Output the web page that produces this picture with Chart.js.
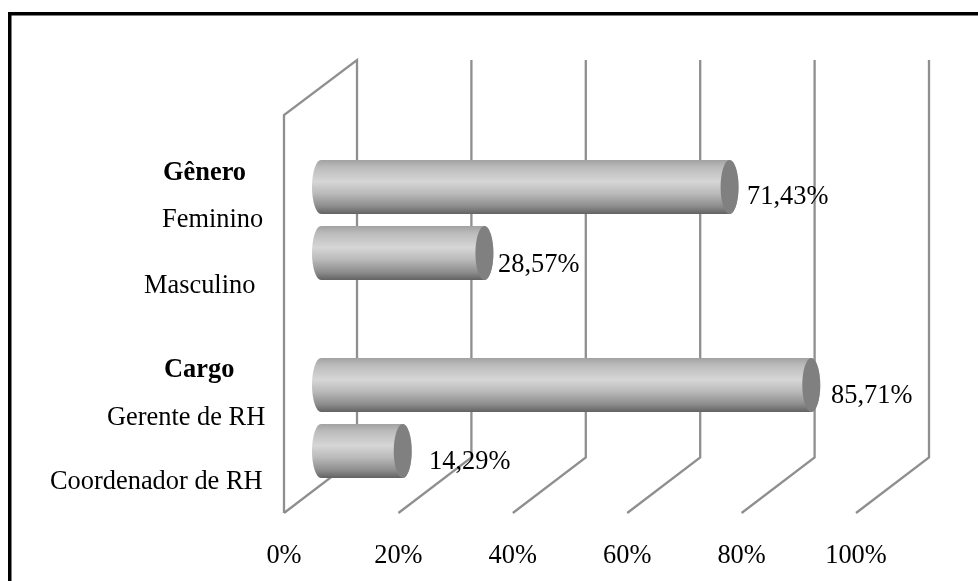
<!DOCTYPE html>
<html>
<head>
<meta charset="utf-8">
<style>html,body{margin:0;padding:0;background:#fff}canvas{display:block}</style>
<script src="https://cdn.jsdelivr.net/npm/chart.js@4"></script>
</head>
<body>
<canvas id="c" width="978" height="581"></canvas>
<script>
const categories = ['Feminino', 'Masculino', '', 'Gerente de RH', 'Coordenador de RH'];
const values = [71.43, 28.57, null, 85.71, 14.29];
const valueLabels = ['71,43%', '28,57%', '', '85,71%', '14,29%'];
const groupHeaders = ['Gênero', 'Cargo'];
const xTicksMax = 100;

const FONT = '"Liberation Serif", "Times New Roman", serif';
const SIZE = 26.4;
const DEPTH_X = 73, DEPTH_Y = 55.5, BAR_SHIFT = 37, RX = 9;
const WALL_TOP = 60, LEFT_TOP = 115;
const catPos = [[162, 220], [144, 286], null, [107, 418], [50, 482]];
const headPos = [[163, 173], [164, 370]];
const valPos = [[747, 197], [498, 265], null, [831, 396], [429, 462]];

const wall = {
  id: 'wall',
  beforeDatasetsDraw(chart) {
    const { ctx, scales: { x } } = chart;
    const floor = chart.chartArea.bottom + 29;
    ctx.save();
    ctx.strokeStyle = '#8f8f8f';
    ctx.lineWidth = 2.3;
    ctx.lineJoin = 'miter';
    x.ticks.forEach(t => {
      const p = x.getPixelForValue(t.value);
      ctx.beginPath();
      ctx.moveTo(p, floor);
      ctx.lineTo(p + DEPTH_X, floor - DEPTH_Y);
      ctx.lineTo(p + DEPTH_X, WALL_TOP);
      if (t.value === 0) {
        ctx.lineTo(p, LEFT_TOP);
        ctx.lineTo(p, floor);
      }
      ctx.stroke();
    });
    ctx.restore();
  },
  afterDatasetsDraw(chart) {
    const { ctx } = chart;
    const meta = chart.getDatasetMeta(0);
    ctx.save();
    meta.data.forEach((el, i) => {
      if (values[i] == null) return;
      const p = el.getProps(['x', 'y', 'base', 'height'], true);
      const top = p.y - p.height / 2, bot = p.y + p.height / 2, ry = p.height / 2;
      const g = ctx.createLinearGradient(0, top, 0, bot);
      g.addColorStop(0, '#a2a2a2');
      g.addColorStop(0.14, '#bcbcbc');
      g.addColorStop(0.4, '#d6d6d6');
      g.addColorStop(0.62, '#bababa');
      g.addColorStop(0.86, '#8c8c8c');
      g.addColorStop(1, '#626262');
      ctx.beginPath();
      ctx.moveTo(p.base, top);
      ctx.lineTo(p.x, top);
      ctx.ellipse(p.x, p.y, RX, ry, 0, -Math.PI / 2, Math.PI / 2);
      ctx.lineTo(p.base, bot);
      ctx.ellipse(p.base, p.y, RX, ry, 0, Math.PI / 2, Math.PI * 1.5);
      ctx.closePath();
      ctx.fillStyle = g;
      ctx.fill();
      ctx.beginPath();
      ctx.ellipse(p.x, p.y, RX, ry, 0, 0, Math.PI * 2);
      ctx.fillStyle = '#808080';
      ctx.fill();
    });
    ctx.restore();
  },
  afterDraw(chart) {
    const { ctx } = chart;
    ctx.save();
    ctx.fillStyle = '#000';
    ctx.fillRect(8, 12, 970, 3.5);
    ctx.fillRect(8, 12, 3.5, 569);
    ctx.textBaseline = 'middle';
    ctx.textAlign = 'left';
    ctx.font = 'bold ' + SIZE + 'px ' + FONT;
    groupHeaders.forEach((t, i) => ctx.fillText(t, headPos[i][0], headPos[i][1]));
    ctx.font = SIZE + 'px ' + FONT;
    categories.forEach((t, i) => { if (t) ctx.fillText(t, catPos[i][0], catPos[i][1]); });
    valueLabels.forEach((t, i) => { if (t) ctx.fillText(t, valPos[i][0], valPos[i][1]); });
    ctx.restore();
  }
};

new Chart(document.getElementById('c'), {
  type: 'bar',
  data: {
    labels: categories,
    datasets: [{
      data: values,
      xAxisID: 'xb',
      yAxisID: 'y',
      backgroundColor: '#b0b0b0',
      borderWidth: 0,
      barPercentage: 54 / 66,
      categoryPercentage: 1
    }]
  },
  plugins: [wall],
  options: {
    indexAxis: 'y',
    responsive: false,
    animation: false,
    events: [],
    layout: { padding: { top: 154, right: 49, left: 0, bottom: 0 } },
    plugins: { legend: { display: false }, tooltip: { enabled: false }, title: { display: false } },
    scales: {
      x: {
        type: 'linear',
        position: 'bottom',
        min: 0,
        max: xTicksMax * 645 / 572,
        grid: { display: false },
        border: { display: false },
        afterFit(s) { s.height = 97; },
        ticks: {
          stepSize: 20,
          includeBounds: false,
          padding: 48,
          maxRotation: 0,
          autoSkip: false,
          color: '#000',
          font: { family: FONT, size: SIZE },
          callback: v => v + '%'
        }
      },
      xb: {
        type: 'linear',
        display: false,
        position: 'bottom',
        min: -BAR_SHIFT * xTicksMax / 572,
        max: (645 - BAR_SHIFT) * xTicksMax / 572
      },
      y: {
        type: 'category',
        position: 'left',
        grid: { display: false },
        border: { display: false },
        ticks: { display: false },
        afterFit(s) { s.width = 284; }
      }
    }
  }
});
</script>
</body>
</html>
